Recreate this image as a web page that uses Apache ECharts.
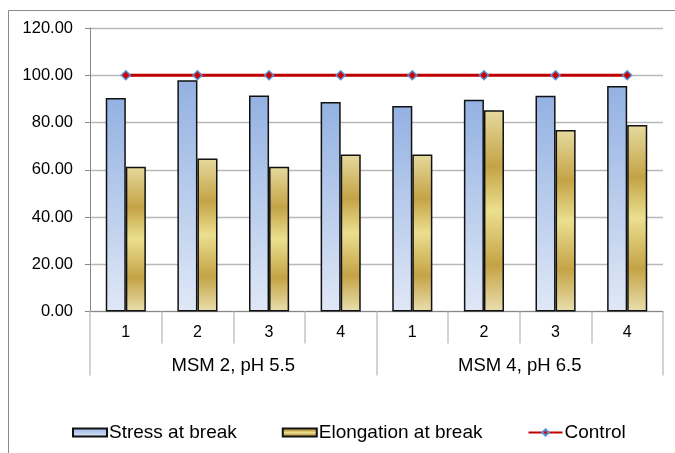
<!DOCTYPE html>
<html>
<head>
<meta charset="utf-8">
<script src="https://cdn.jsdelivr.net/npm/echarts@6/dist/echarts.min.js"></script>
<style>
  html, body { margin: 0; padding: 0; background: #ffffff; }
  #chart { width: 675px; height: 453px; }
</style>
</head>
<body>
<div id="chart"></div>
<script>
// Sample numbers within each medium
const categories = ['1', '2', '3', '4', '1', '2', '3', '4'];
// Medium / pH groups, each spanning four samples
const groups = ['MSM 2, pH 5.5', 'MSM 4, pH 6.5'];
// Mechanical properties relative to the control (%)
const stressAtBreak = [90.4, 97.9, 91.4, 88.7, 87.0, 89.6, 91.3, 95.5];
const elongationAtBreak = [61.3, 64.8, 61.3, 66.5, 66.5, 85.2, 76.8, 78.9];
const control = [100, 100, 100, 100, 100, 100, 100, 100];

const FONT = '"Liberation Sans", Arial, sans-serif';

const stressFill = new echarts.graphic.LinearGradient(0, 0, 0, 1, [
  { offset: 0, color: '#93b1e2' },
  { offset: 1, color: '#e0e8f6' }
]);
const elongFill = new echarts.graphic.LinearGradient(0, 0, 0, 1, [
  { offset: 0, color: '#e6da9e' },
  { offset: 0.28, color: '#c4a346' },
  { offset: 0.5, color: '#ebdf8f' },
  { offset: 0.77, color: '#c4a346' },
  { offset: 1, color: '#e9dfae' }
]);

const chart = echarts.init(document.getElementById('chart'), null, { renderer: 'canvas' });

chart.setOption({
  animation: false,
  backgroundColor: '#ffffff',
  textStyle: { fontFamily: FONT, color: '#000000' },
  graphic: [{
    type: 'rect',
    shape: { x: 8.5, y: 10.5, width: 700, height: 500 },
    style: { fill: 'none', stroke: '#8a8a8a', lineWidth: 1 },
    silent: true
  }],
  grid: { left: 90, right: 12, top: 28, bottom: 141.5 },
  legend: {
    left: 72,
    top: 423,
    padding: 0,
    itemWidth: 34,
    itemHeight: 8,
    itemGap: 45,
    textStyle: { fontFamily: FONT, fontSize: 19, color: '#000000', padding: [0, 0, 0, -3] },
    data: [
      { name: 'Stress at break', icon: 'rect' },
      { name: 'Elongation at break', icon: 'rect' },
      { name: 'Control' }
    ]
  },
  xAxis: [{
    type: 'category',
    data: categories,
    position: 'bottom',
    axisLine: { show: true, lineStyle: { color: '#888888', width: 1 } },
    axisTick: { show: true, interval: 0, length: 32, lineStyle: { color: '#c3c3c3', width: 1.5 } },
    axisLabel: { interval: 0, margin: 13, fontSize: 16, color: '#000000', fontFamily: FONT },
    splitLine: { show: false }
  }, {
    type: 'category',
    data: groups,
    position: 'bottom',
    axisLine: { show: false },
    axisTick: { show: true, interval: 0, length: 64, lineStyle: { color: '#c3c3c3', width: 1.5 } },
    axisLabel: { interval: 0, margin: 45, fontSize: 18.5, color: '#000000', fontFamily: FONT },
    splitLine: { show: false }
  }],
  yAxis: {
    type: 'value',
    min: 0,
    max: 120,
    interval: 20,
    axisLine: { show: true, lineStyle: { color: '#888888', width: 1 } },
    axisTick: { show: true, length: 5, lineStyle: { color: '#888888' } },
    axisLabel: {
      margin: 17, fontSize: 16.5, color: '#000000', fontFamily: FONT,
      formatter: v => v.toFixed(2)
    },
    splitLine: { show: true, lineStyle: { color: '#b8b8b8', width: 1.3 } }
  },
  series: [{
    name: 'Stress at break',
    type: 'bar',
    xAxisIndex: 0,
    data: stressAtBreak,
    barGap: '0%',
    barCategoryGap: '44%',
    itemStyle: { color: stressFill, borderColor: '#111111', borderWidth: 1.5 }
  }, {
    name: 'Elongation at break',
    type: 'bar',
    xAxisIndex: 0,
    data: elongationAtBreak,
    barGap: '0%',
    barCategoryGap: '44%',
    itemStyle: { color: elongFill, borderColor: '#111111', borderWidth: 1.5 }
  }, {
    name: 'Control',
    type: 'line',
    xAxisIndex: 0,
    data: control,
    z: 5,
    symbol: 'diamond',
    symbolSize: 9,
    showSymbol: true,
    lineStyle: { color: '#c00000', width: 3 },
    itemStyle: { color: '#d00000', borderColor: '#5a8fd2', borderWidth: 1.5 }
  }]
});
</script>
</body>
</html>
